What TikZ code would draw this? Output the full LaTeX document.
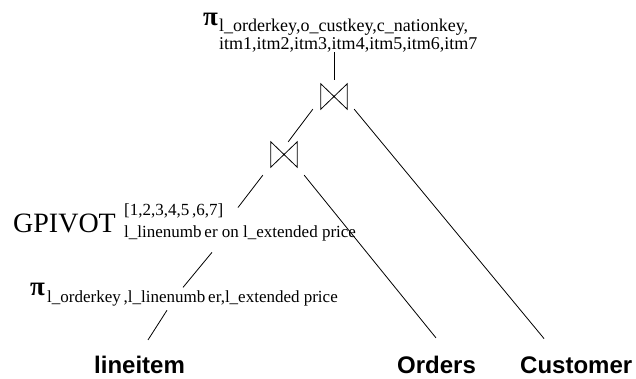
\documentclass[tikz,border=0pt]{standalone}
\usepackage{fontspec}
\setmainfont{Liberation Serif}
\newfontfamily\relfont{Liberation Sans}
\usetikzlibrary{calc}
\tikzset{
  relname/.style={font=\relfont\bfseries\fontsize{24}{28}\selectfont,inner sep=0pt,anchor=base west},
  opname/.style={font=\fontsize{28}{32}\selectfont,inner sep=0pt,anchor=base west},
  projsym/.style={font=\bfseries\fontsize{27}{30}\selectfont,inner sep=0pt,anchor=base west},
  attrlist/.style={font=\fontsize{17}{22}\selectfont,inner sep=0pt,anchor=north west,align=left},
  joinop/.style={minimum width=26pt,minimum height=25pt,inner sep=0pt},
  planedge/.style={line width=0.8pt,draw=black}
}

\begin{document}
\begin{tikzpicture}[x=1pt,y=-1pt]
  \useasboundingbox (0,0) rectangle (636,378);
  % top projection
  \node[projsym] (projtop) at (203,25) {π};
  \node[attrlist,font=\fontsize{18}{17.5}\selectfont] (projtopattr) at (219,19)
    {l\_orderkey,o\_custkey,c\_nationkey,\\itm1,itm2,itm3,itm4,itm5,itm6,itm7};

  % joins
  \node[joinop] (jointop) at (334,96.5) {};
  \node[joinop] (joinlow) at (284,154.5) {};
  \foreach \j in {jointop,joinlow}
    \draw[planedge] (\j.north west) -- (\j.south east) -- (\j.north east) -- (\j.south west) -- cycle;

  % gpivot
  \node[opname] (gpivot) at (13,232) {GPIVOT};
  \node[attrlist] (gpivotattr) at (124,203.5)
    {[1,2,3,4,5\,,6,7]\\l\_linenumb\,er on l\_extended price};

  % lower projection
  \node[projsym] (projlow) at (30,295) {π};
  \node[attrlist] (projlowattr) at (47,290.4)
    {l\_orderkey\,,l\_linenumb\,er,l\_extended price};

  % base relations
  \node[relname] (lineitem) at (94,373.5) {lineitem};
  \node[relname] (orders) at (397,373.5) {Orders};
  \node[relname] (customer) at (520,373.5) {Customer};

  \draw[planedge] ([yshift=4pt]jointop.north) -- (jointop.north |- projtopattr.south);
  \draw[planedge] ($(jointop.south west)+(-8,0)$) -- ($(joinlow.north east)+(-9,0)$);
  \draw[planedge] ($(jointop.south east)+(7,0)$) -- ($(customer.north west)+(24,-18)$);
  \draw[planedge] ($(joinlow.south west)+(-8,8)$) -- ($(gpivotattr.north west)+(114,4)$);
  \draw[planedge] ($(joinlow.south east)+(7,8)$) -- ($(orders.north west)+(39,-18)$);
  \draw[planedge] ($(gpivotattr.south west)+(88,11)$) -- ($(projlowattr.north west)+(136,-3)$);
  \draw[planedge] ($(projlowattr.south west)+(120,4)$) -- ($(lineitem.north west)+(54,-16)$);
\end{tikzpicture}
\end{document}
